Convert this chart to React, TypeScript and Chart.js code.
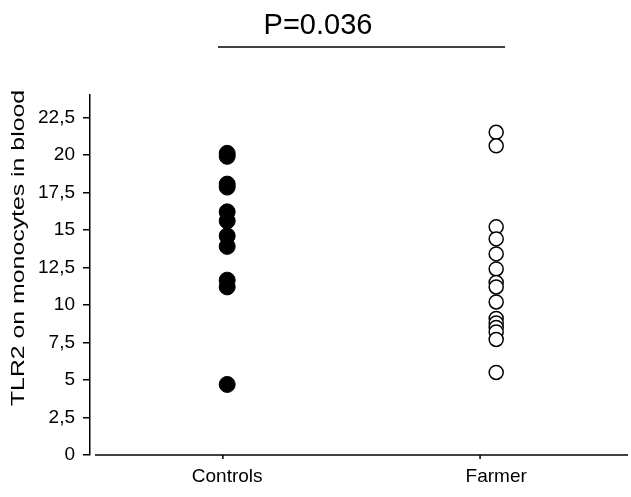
import React, { useEffect, useRef } from "react";
import { Chart, registerables } from "chart.js";

Chart.register(...registerables);

const categories = ["Controls", "Farmer"];
const controlsValues = [20.1, 19.9, 18.05, 17.85, 16.2, 15.6, 14.6, 13.9, 11.65, 11.2, 4.7];
const farmerValues = [21.5, 20.6, 15.2, 14.4, 13.4, 12.4, 11.5, 11.2, 10.2, 9.1, 8.8, 8.5, 8.2, 7.7, 5.5];
const yTicks = [0, 2.5, 5, 7.5, 10, 12.5, 15, 17.5, 20, 22.5];
const pValueText = "P=0.036";
const yTitle = "TLR2 on monocytes in blood";

const FONT = "'Liberation Sans', Arial, Helvetica, sans-serif";

export default function App() {
  const ref = useRef<HTMLCanvasElement | null>(null);

  useEffect(() => {
    document.body.style.margin = "0";
    const canvas = ref.current;
    if (!canvas) return;

    const axisPlugin = {
      id: "customAxis",
      afterDraw(chart: any) {
        const { ctx, chartArea, scales } = chart;
        const xs = scales.x;
        ctx.save();
        ctx.strokeStyle = "#000";
        ctx.lineWidth = 1.5;
        // x axis line (starts a little right of the y axis)
        ctx.beginPath();
        ctx.moveTo(chartArea.left + 5, chartArea.bottom);
        ctx.lineTo(chartArea.right, chartArea.bottom);
        ctx.stroke();
        // small category ticks
        [0.984, 1.94].forEach((v) => {
          const px = xs.getPixelForValue(v);
          ctx.beginPath();
          ctx.moveTo(px, chartArea.bottom);
          ctx.lineTo(px, chartArea.bottom + 4);
          ctx.stroke();
        });
        // significance line
        const x1 = xs.getPixelForValue(0.966);
        const x2 = xs.getPixelForValue(2.033);
        ctx.beginPath();
        ctx.moveTo(x1, 47);
        ctx.lineTo(x2, 47);
        ctx.stroke();
        // y axis title (vertically stretched like the reference)
        ctx.fillStyle = "#000";
        ctx.font = `18px ${FONT}`;
        ctx.textAlign = "center";
        ctx.textBaseline = "middle";
        ctx.translate(19, 248);
        ctx.scale(1, 1.38);
        ctx.rotate(-Math.PI / 2);
        ctx.fillText(yTitle, 0, 0);
        ctx.restore();
      },
    };

    const chart = new Chart(canvas, {
      type: "scatter",
      data: {
        datasets: [
          {
            label: categories[0],
            data: controlsValues.map((v) => ({ x: 1, y: v })),
            pointRadius: 8,
            pointBackgroundColor: "#000",
            pointBorderColor: "#000",
            pointBorderWidth: 1,
          },
          {
            label: categories[1],
            data: farmerValues.map((v) => ({ x: 2, y: v })),
            pointRadius: 7,
            pointBackgroundColor: "#fff",
            pointBorderColor: "#000",
            pointBorderWidth: 1.5,
          },
        ],
      },
      options: {
        animation: false,
        responsive: false,
        layout: { autoPadding: false, padding: { left: 8, right: 3, top: 0, bottom: 0 } },
        plugins: {
          legend: { display: false },
          tooltip: { enabled: false },
          title: {
            display: true,
            text: pValueText,
            color: "#000",
            font: { family: FONT, size: 29, weight: "normal" },
            padding: { top: 9, bottom: 51 },
          },
        },
        scales: {
          x: {
            type: "linear",
            min: 0.49,
            max: 2.49,
            afterBuildTicks: (scale: any) => {
              scale.ticks = categories.map((_, i) => ({ value: i + 1 }));
            },
            afterFit: (scale: any) => {
              scale.height = 42;
              scale.paddingLeft = 0;
              scale.paddingRight = 0;
            },
            ticks: {
              color: "#000",
              font: { family: FONT, size: 19 },
              padding: 10,
              callback: (v: any) => categories[Number(v) - 1] ?? "",
              maxRotation: 0,
              autoSkip: false,
            },
            grid: { display: false, drawTicks: false },
            border: { display: false },
          },
          y: {
            min: 0,
            max: 24,
            afterBuildTicks: (scale: any) => {
              scale.ticks = yTicks.map((v) => ({ value: v }));
            },
            afterFit: (scale: any) => {
              scale.width = 82;
            },
            ticks: {
              color: "#000",
              font: { family: FONT, size: 19 },
              padding: 8,
              callback: (v: any) => String(v).replace(".", ","),
            },
            grid: {
              drawOnChartArea: false,
              drawTicks: true,
              tickLength: 7,
              color: "#000",
              lineWidth: 1.5,
            },
            border: { display: true, color: "#000", width: 1.5 },
          },
        },
      },
      plugins: [axisPlugin],
    });

    return () => chart.destroy();
  }, []);

  return (
    <div style={{ width: 631, height: 497, background: "#fff" }}>
      <canvas ref={ref} width={631} height={497} style={{ display: "block" }} />
    </div>
  );
}
